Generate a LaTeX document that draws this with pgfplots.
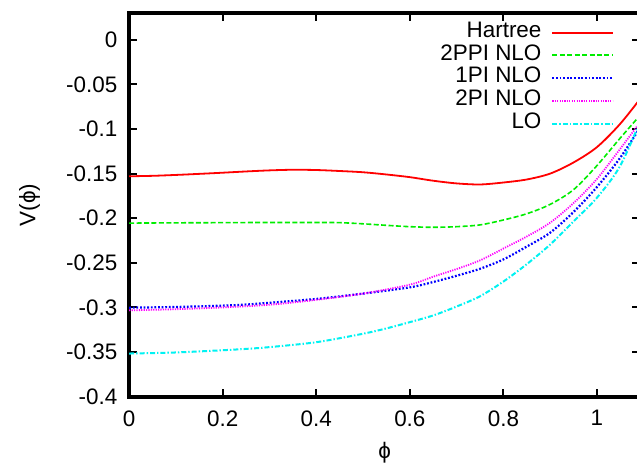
\documentclass[border=0pt]{standalone}
\usepackage{pgfplots}
\pgfplotsset{compat=1.18}
\usepackage{fontspec}
\setmainfont{Liberation Sans}
\definecolor{cred}{rgb}{1,0,0}
\definecolor{cgreen}{rgb}{0,0.93,0}
\definecolor{cblue}{rgb}{0,0,1}
\definecolor{cmag}{rgb}{1,0,1}
\definecolor{ccyan}{rgb}{0,0.95,0.95}
\newcommand{\fs}{\fontsize{11.2}{13.4}\selectfont}
\begin{document}
\fs
\begin{tikzpicture}
\begin{axis}[
  name=ax,
  scale only axis,
  width=255pt, height=191.5pt,
  xmin=0, xmax=1.092, ymin=-0.4, ymax=0.03,
  xtick={0,0.2,0.4,0.6,0.8,1},
  xticklabels={0,0.2,0.4,0.6,0.8,1},
  ytick={-0.4,-0.35,-0.3,-0.25,-0.2,-0.15,-0.1,-0.05,0},
  yticklabels={-0.4,-0.35,-0.3,-0.25,-0.2,-0.15,-0.1,-0.05,0},
  ticklabel style={font=\fs},
  tick align=inside, tick pos=both,
  major tick length=4pt,
  every tick/.style={black, line width=1pt},
  axis line style={line width=2pt},
  xlabel={ϕ}, ylabel={V(ϕ)},
  xlabel style={at={(axis description cs:0.5,-0.146)},anchor=center},
  ylabel style={at={(axis description cs:-0.195,0.5)},anchor=center},
  label style={font=\fs},
  xticklabel style={yshift=-3pt},
  yticklabel style={xshift=-2pt},
  legend plot pos=right,
  legend cell align=right,
  legend style={draw=none, fill=none, at={(0.949,0.977)}, anchor=north east,
     inner sep=0pt, row sep=1pt, column sep=4pt,
     nodes={inner sep=1pt, text height=6.5pt, text depth=1.9pt, font=\fs}},
  legend image code/.code={\draw[#1, line width=1pt] (0pt,0pt) -- (30pt,0pt);},
]
\addplot[color=cred, line width=0.9pt, smooth] coordinates {
(0,-0.153) (0.05,-0.1525) (0.1,-0.1515) (0.15,-0.1503) (0.2,-0.149) (0.25,-0.1476)
(0.3,-0.1464) (0.35,-0.1457) (0.4,-0.1460) (0.45,-0.1471) (0.5,-0.1485) (0.55,-0.151)
(0.6,-0.154) (0.65,-0.158) (0.7,-0.161) (0.75,-0.1622) (0.8,-0.160) (0.85,-0.1566)
(0.9,-0.150) (0.95,-0.1375) (1.0,-0.1203) (1.05,-0.094) (1.1,-0.061)};
\addlegendentry{Hartree}
\addplot[color=cgreen, line width=0.8pt, dash pattern=on 2.5pt off 1.2pt, smooth] coordinates {
(0,-0.2055) (0.1,-0.2052) (0.2,-0.205) (0.3,-0.2048) (0.4,-0.2048) (0.45,-0.205)
(0.5,-0.2063) (0.55,-0.208) (0.6,-0.2095) (0.65,-0.2102) (0.7,-0.2095) (0.75,-0.2075)
(0.8,-0.202) (0.85,-0.195) (0.9,-0.1845) (0.95,-0.168) (1.0,-0.141) (1.05,-0.110) (1.1,-0.080)};
\addlegendentry{2PPI NLO}
\addplot[color=cblue, line width=1.1pt, dash pattern=on 0.9pt off 0.9pt, smooth] coordinates {
(0,-0.3003) (0.1,-0.2995) (0.2,-0.298) (0.25,-0.2968) (0.3,-0.2948) (0.4,-0.2905)
(0.5,-0.2845) (0.6,-0.2775) (0.65,-0.2715) (0.7,-0.2645) (0.75,-0.2567) (0.8,-0.2462)
(0.85,-0.2318) (0.9,-0.2162) (0.95,-0.193) (1.0,-0.165) (1.05,-0.132) (1.1,-0.092)};
\addlegendentry{1PI NLO}
\addplot[color=cmag, line width=0.9pt, dash pattern=on 0.6pt off 0.6pt, smooth] coordinates {
(0,-0.3033) (0.1,-0.302) (0.2,-0.3) (0.3,-0.297) (0.4,-0.2915) (0.5,-0.2845)
(0.6,-0.2745) (0.65,-0.2655) (0.7,-0.257) (0.75,-0.2473) (0.8,-0.234) (0.85,-0.2205)
(0.9,-0.205) (0.95,-0.183) (1.0,-0.156) (1.05,-0.122) (1.1,-0.087)};
\addlegendentry{2PI NLO}
\addplot[color=ccyan, line width=1pt, dash pattern=on 2.5pt off 1pt on 0.7pt off 1pt, smooth] coordinates {
(0,-0.3517) (0.1,-0.3505) (0.2,-0.348) (0.25,-0.3465) (0.3,-0.3445) (0.4,-0.339)
(0.5,-0.3295) (0.55,-0.3235) (0.6,-0.3165) (0.65,-0.309) (0.7,-0.299) (0.75,-0.2875)
(0.8,-0.271) (0.85,-0.2515) (0.9,-0.2295) (0.95,-0.2035) (1.0,-0.177) (1.05,-0.141) (1.1,-0.082)};
\addlegendentry{LO}
\end{axis}
\pgfresetboundingbox
\useasboundingbox ([xshift=-64.5pt,yshift=-34pt]ax.south west) rectangle ([xshift=-1.5pt,yshift=6.5pt]ax.north east);
\end{tikzpicture}
\end{document}
